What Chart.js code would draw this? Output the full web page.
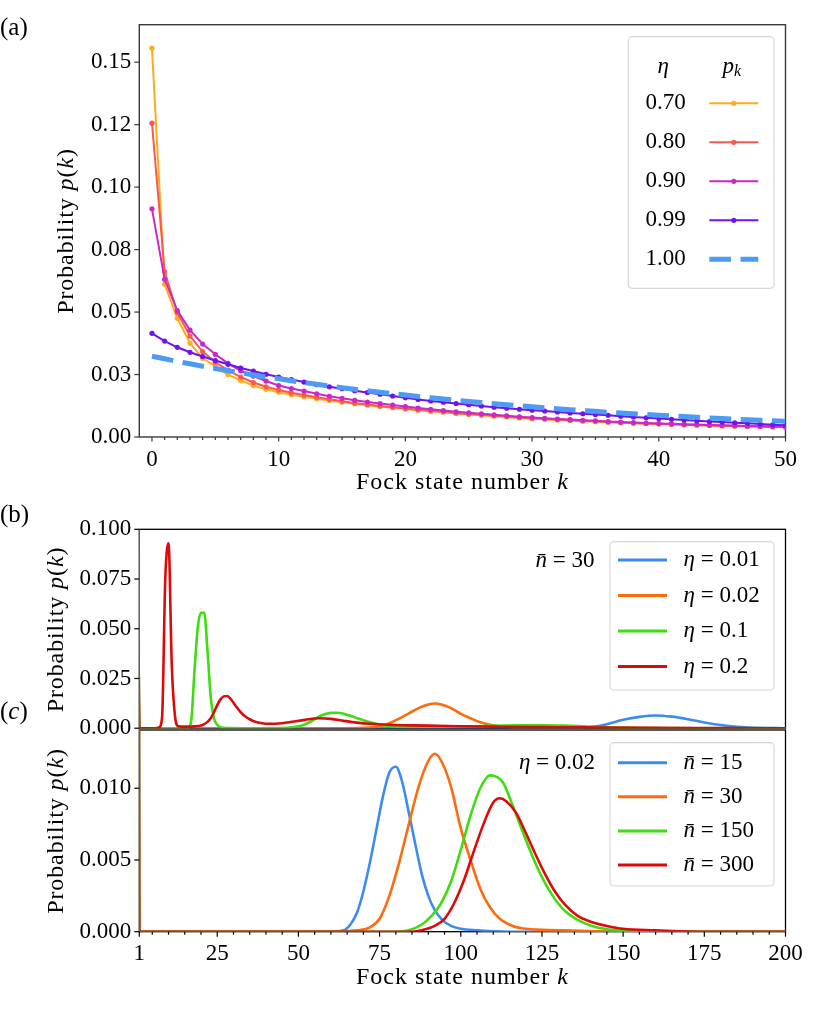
<!DOCTYPE html>
<html lang="en">
<head>
<meta charset="UTF-8">
<title>Fock state number distributions</title>
<style>
    body { margin: 0; background: #fff; }
    .wrap { position: relative; width: 830px; height: 1022px; overflow: hidden; }
    .wrap canvas { position: absolute; left: 0; }
    #chartA { top: 0; }
    #chartB { top: 490px; }
    #chartC { top: 712px; }
</style>
</head>
<body>
<div class="wrap">
    <canvas id="chartA" width="830" height="500" style="width:830px;height:500px"></canvas>
    <canvas id="chartB" width="830" height="255" style="width:830px;height:255px"></canvas>
    <canvas id="chartC" width="830" height="310" style="width:830px;height:310px"></canvas>
</div>
<script src="https://cdn.jsdelivr.net/npm/chart.js"></script>
<script>
// ---------- panel (a): p(k) for several efficiencies ----------
const kA = [0, 1, 2, 3, 4, 5, 6, 7, 8, 9, 10, 11, 12, 13, 14, 15, 16, 17, 18, 19, 20,
    21, 22, 23, 24, 25, 26, 27, 28, 29, 30, 31, 32, 33, 34, 35, 36, 37, 38, 39, 40,
    41, 42, 43, 44, 45, 46, 47, 48, 49, 50];
const etaA = ['0.70', '0.80', '0.90', '0.99', '1.00'];
const pA070 = [0.1556, 0.0611, 0.0475, 0.0375, 0.0315, 0.0284, 0.0250, 0.0226, 0.0206, 0.0191, 0.0179,
    0.0169, 0.0161, 0.0153, 0.0146, 0.0139, 0.0133, 0.0127, 0.0122, 0.0117, 0.0112,
    0.0107, 0.0103, 0.0099, 0.0094, 0.0090, 0.0087, 0.0083, 0.0080, 0.0076, 0.0073,
    0.0071, 0.0068, 0.0066, 0.0063, 0.0061, 0.0059, 0.0057, 0.0055, 0.0053, 0.0052,
    0.0050, 0.0048, 0.0047, 0.0046, 0.0044, 0.0043, 0.0042, 0.0041, 0.0040, 0.0039];
const pA080 = [0.1256, 0.0662, 0.0498, 0.0404, 0.0342, 0.0299, 0.0268, 0.0240, 0.0218, 0.0201, 0.0188,
    0.0177, 0.0168, 0.0159, 0.0151, 0.0143, 0.0136, 0.0130, 0.0124, 0.0119, 0.0114,
    0.0109, 0.0105, 0.0101, 0.0096, 0.0092, 0.0089, 0.0085, 0.0082, 0.0078, 0.0075,
    0.0072, 0.0070, 0.0067, 0.0065, 0.0063, 0.0060, 0.0058, 0.0056, 0.0054, 0.0053,
    0.0051, 0.0049, 0.0048, 0.0046, 0.0045, 0.0044, 0.0043, 0.0042, 0.0041, 0.0040];
const pA090 = [0.0913, 0.0631, 0.0506, 0.0428, 0.0372, 0.0331, 0.0295, 0.0265, 0.0244, 0.0224, 0.0206,
    0.0194, 0.0184, 0.0173, 0.0163, 0.0155, 0.0147, 0.0140, 0.0134, 0.0128, 0.0122,
    0.0116, 0.0111, 0.0106, 0.0101, 0.0097, 0.0093, 0.0089, 0.0085, 0.0081, 0.0078,
    0.0075, 0.0072, 0.0070, 0.0067, 0.0065, 0.0062, 0.0060, 0.0058, 0.0056, 0.0054,
    0.0053, 0.0051, 0.0050, 0.0048, 0.0047, 0.0046, 0.0044, 0.0043, 0.0042, 0.0041];
const pA099 = [0.0415, 0.0384, 0.0359, 0.0339, 0.0322, 0.0306, 0.0291, 0.0276, 0.0264, 0.0251, 0.0240,
    0.0230, 0.0220, 0.0210, 0.0201, 0.0193, 0.0185, 0.0178, 0.0171, 0.0164, 0.0157,
    0.0150, 0.0144, 0.0139, 0.0134, 0.0129, 0.0124, 0.0119, 0.0115, 0.0111, 0.0107,
    0.0104, 0.0100, 0.0096, 0.0093, 0.0090, 0.0087, 0.0083, 0.0080, 0.0077, 0.0074,
    0.0071, 0.0068, 0.0065, 0.0062, 0.0060, 0.0057, 0.0055, 0.0052, 0.0049, 0.0047];
const pA100 = [0.0323, 0.0313, 0.0302, 0.0293, 0.0283, 0.0274, 0.0265, 0.0257, 0.0248, 0.0240, 0.0233,
    0.0225, 0.0218, 0.0211, 0.0204, 0.0197, 0.0191, 0.0185, 0.0179, 0.0173, 0.0168,
    0.0162, 0.0157, 0.0152, 0.0147, 0.0142, 0.0138, 0.0133, 0.0129, 0.0125, 0.0121,
    0.0117, 0.0113, 0.0109, 0.0106, 0.0103, 0.0099, 0.0096, 0.0093, 0.0090, 0.0087,
    0.0084, 0.0082, 0.0079, 0.0076, 0.0074, 0.0071, 0.0069, 0.0067, 0.0065, 0.0063];
const yTicksA = [0, 0.025, 0.05, 0.075, 0.1, 0.125, 0.15];
const yTickLabelsA = ['0.00', '0.03', '0.05', '0.08', '0.10', '0.12', '0.15'];
const xTicksA = [0, 10, 20, 30, 40, 50];

// ---------- panel (b): nbar = 30, several eta ----------
const etaB = ['0.01', '0.02', '0.1', '0.2'];
const kB001 = [0, 1, 120, 130, 136, 141, 145, 150, 155, 160, 165, 170, 175, 180, 185, 190, 195, 200];
const pB001 = [0.5, 0, 0, 0, 0.0002, 0.0008, 0.0020, 0.0042, 0.0057, 0.0064, 0.0058, 0.0045, 0.0029, 0.0016, 0.0007, 0.0002, 0.0001, 0];
// eta = 0.02, nbar = 30 (same curve in panels b and c)
const kN30 = [0, 1, 60, 68, 72, 75, 78, 81, 84, 87, 90, 92, 94, 97, 100, 103, 106, 109, 112, 116, 120, 130, 150, 200];
const pN30 = [0.5, 0, 0, 0.0001, 0.0003, 0.0009, 0.0025, 0.0048, 0.0075, 0.0101, 0.0119, 0.0124, 0.0119, 0.0101, 0.0072, 0.0050, 0.0030, 0.0017, 0.0009, 0.0004, 0.0002, 0.0001, 0, 0];
const kB01 = [0, 1, 14, 16, 17, 18, 19, 20, 21, 22, 23, 24, 25, 26, 28, 40, 45, 48, 51, 54, 57, 60, 62, 64, 67,
    70, 73, 76, 80, 85, 90, 100, 110, 118, 125, 132, 138, 145, 155, 165, 200];
const pB01 = [0.5, 0, 0, 0.0001, 0.0040, 0.0290, 0.0505, 0.0580, 0.0580, 0.0390, 0.0155, 0.0050, 0.0017, 0.0005, 0.0001,
    0, 0.0001, 0.0005, 0.0013, 0.0035, 0.0064, 0.0077, 0.0078, 0.0072, 0.0057, 0.0040, 0.0026, 0.0015, 0.0008, 0.0006,
    0.0006, 0.0008, 0.0012, 0.0014, 0.0015, 0.0013, 0.0009, 0.0004, 0.0001, 0, 0];
const kB02 = [0, 1, 6, 7, 8, 9, 10, 11, 12, 13, 14, 16, 18, 20, 21, 22, 23, 24, 25, 26, 27, 28, 29, 30, 31, 32, 33,
    34, 35, 36, 37, 38, 40, 45, 48, 52, 56, 60, 64, 68, 72, 78, 85, 93, 100, 110, 120, 130, 145, 160, 180, 200];
const pB02 = [0.5, 0, 0, 0.0003, 0.0050, 0.0750, 0.0930, 0.0320, 0.0060, 0.0010, 0.0008, 0.0008, 0.0009, 0.0013,
    0.0020, 0.0032, 0.0050, 0.0080, 0.0116, 0.0145, 0.0160, 0.0162, 0.0150, 0.0128, 0.0105, 0.0085, 0.0068, 0.0055,
    0.0045, 0.0037, 0.0031, 0.0027, 0.0022, 0.0025, 0.0032, 0.0042, 0.0050, 0.0047, 0.0037, 0.0028, 0.0022, 0.0017,
    0.0014, 0.0012, 0.0010, 0.0008, 0.0006, 0.0005, 0.0003, 0.0002, 0.0001, 0];
const yTicksB = [0, 0.025, 0.05, 0.075, 0.1];
const yTickLabelsB = ['0.000', '0.025', '0.050', '0.075', '0.100'];

// ---------- panel (c): eta = 0.02, several nbar ----------
const nbarC = ['15', '30', '150', '300'];
const kC15 = [0, 1, 60, 64, 66, 68, 70, 72, 74, 76, 78, 80, 82, 84, 86, 88, 90, 92, 94, 97, 100, 105, 115, 200];
const pC15 = [0.5, 0, 0, 0.0001, 0.0005, 0.0013, 0.0028, 0.0048, 0.0071, 0.0094, 0.0111, 0.0115, 0.0104, 0.0083,
    0.0061, 0.0040, 0.0025, 0.0015, 0.0009, 0.0004, 0.0002, 0.0001, 0, 0];
const kC150 = [0, 1, 80, 84, 88, 91, 94, 97, 100, 103, 106, 109, 111, 113, 116, 119, 122, 125, 128, 131, 134, 138, 142, 148, 160, 200];
const pC150 = [0.5, 0, 0, 0.0001, 0.0005, 0.0011, 0.0020, 0.0035, 0.0057, 0.0081, 0.0100, 0.0109, 0.0108, 0.0104,
    0.0088, 0.0070, 0.0053, 0.0038, 0.0026, 0.0017, 0.0011, 0.0006, 0.0003, 0.0001, 0, 0];
const kC300 = [0, 1, 85, 88, 92, 95, 98, 101, 104, 107, 110, 112, 114, 117, 120, 123, 126, 129, 132, 136, 140, 145, 150, 160, 175, 200];
const pC300 = [0.5, 0, 0, 0.0001, 0.0004, 0.0009, 0.0020, 0.0036, 0.0056, 0.0075, 0.0090, 0.0093, 0.0091, 0.0083,
    0.0069, 0.0054, 0.0040, 0.0028, 0.0019, 0.0011, 0.0007, 0.0004, 0.0002, 0.0001, 0, 0];
const yTicksC = [0, 0.005, 0.01];
const yTickLabelsC = ['0.000', '0.005', '0.010'];
const xMajorC = [1, 25, 50, 75, 100, 125, 150, 175, 200];
const xMinorC = [5, 10, 15, 20, 30, 35, 40, 45, 55, 60, 65, 70, 80, 85, 90, 95, 105, 110, 115, 120,
    130, 135, 140, 145, 155, 160, 165, 170, 180, 185, 190, 195];

// ---------- helpers ----------
const FONT = 'Liberation Serif';
const FS = 23;
Chart.defaults.font.family = FONT;
Chart.defaults.font.size = FS;
Chart.defaults.color = '#000';

function pts(ks, ps) {
    return ks.map((k, i) => ({ x: k, y: ps[i] }));
}

function fontOf(p, size) {
    return (p.it ? 'italic ' : '') + (p.sz || size) + 'px "' + FONT + '"';
}

// draw a run of text pieces with mixed upright / italic styles
function drawRich(ctx, parts, x, y, align, size, spacing) {
    size = size || FS;
    ctx.letterSpacing = (spacing || 0) + 'px';
    let w = 0;
    parts.forEach(p => { ctx.font = fontOf(p, size); w += ctx.measureText(p.t).width; });
    let cx = align === 'center' ? x - w / 2 : (align === 'right' ? x - w : x);
    ctx.textAlign = 'left';
    ctx.textBaseline = 'middle';
    ctx.fillStyle = '#000';
    parts.forEach(p => {
        ctx.font = fontOf(p, size);
        ctx.fillText(p.t, cx, y + (p.dy || 0));
        cx += ctx.measureText(p.t).width;
    });
    ctx.letterSpacing = '0px';
}

const probLabel = [{ t: 'Probability ' }, { t: 'p', it: true }, { t: '(' }, { t: 'k', it: true }, { t: ')' }];
const fockLabel = [{ t: 'Fock state number ' }, { t: 'k', it: true }];

// frame, tick marks, legend box and free texts
const decor = {
    id: 'decor',
    beforeDatasetsDraw(chart, args, o) {
        const ctx = chart.ctx, a = chart.chartArea;
        ctx.save();
        ctx.strokeStyle = o.frameColor;
        ctx.lineWidth = o.frameWidth;
        ctx.strokeRect(a.left, a.top, a.right - a.left, a.bottom - a.top);
        ctx.restore();
    },
    afterDatasetsDraw(chart, args, o) {
        const ctx = chart.ctx, a = chart.chartArea, off = o.offsetY;
        ctx.save();
        ctx.strokeStyle = o.frameColor;
        ctx.lineWidth = o.tickWidth;
        (o.xTicks || []).forEach(t => {
            const px = chart.scales.x.getPixelForValue(t.v);
            ctx.beginPath(); ctx.moveTo(px, a.bottom); ctx.lineTo(px, a.bottom + t.len); ctx.stroke();
        });
        (o.yTicks || []).forEach(t => {
            const py = chart.scales.y.getPixelForValue(t.v);
            ctx.beginPath(); ctx.moveTo(a.left, py); ctx.lineTo(a.left - t.len, py); ctx.stroke();
        });
        ctx.restore();

        const L = o.legend;
        if (L) {
            const [x1, y1, x2, y2] = L.box;
            ctx.save();
            ctx.beginPath();
            ctx.roundRect(x1, y1 - off, x2 - x1, y2 - y1, 4);
            ctx.fillStyle = 'rgba(255,255,255,0.85)';
            ctx.fill();
            ctx.strokeStyle = 'rgba(205,212,212,0.9)';
            ctx.lineWidth = 1.2;
            ctx.stroke();
            ctx.restore();
            L.rows.forEach(r => {
                const ds = chart.data.datasets[r.ds];
                const y = r.y - off;
                ctx.save();
                ctx.strokeStyle = ds.borderColor;
                ctx.lineWidth = ds.borderWidth + (L.extraWidth || 0);
                ctx.setLineDash(ds.borderDash || []);
                ctx.beginPath(); ctx.moveTo(L.lx1, y); ctx.lineTo(L.lx2, y); ctx.stroke();
                if (ds.pointRadius > 0) {
                    ctx.setLineDash([]);
                    ctx.fillStyle = ds.borderColor;
                    ctx.beginPath(); ctx.arc((L.lx1 + L.lx2) / 2, y, ds.pointRadius, 0, Math.PI * 2); ctx.fill();
                }
                ctx.restore();
                drawRich(ctx, r.parts, L.tx, y, L.talign, 23);
            });
        }
        (o.texts || []).forEach(t => {
            ctx.save();
            if (t.rotate) {
                ctx.translate(t.x, t.y - off);
                ctx.rotate(-Math.PI / 2);
                drawRich(ctx, t.parts, 0, 0, t.align, t.size, t.ls);
            } else {
                drawRich(ctx, t.parts, t.x, t.y - off, t.align, t.size, t.ls);
            }
            ctx.restore();
        });
    }
};

function tickScale(min, max, ticks, labels, extra) {
    return Object.assign({
        type: 'linear', min: min, max: max,
        afterBuildTicks: s => { s.ticks = ticks.map(v => ({ value: v })); },
        ticks: {
            autoSkip: false, maxRotation: 0, minRotation: 0,
            callback: (v, i) => labels[i]
        },
        grid: { display: true, drawOnChartArea: false, drawTicks: true, tickLength: 5, tickColor: 'rgba(0,0,0,0)' },
        border: { display: false }
    }, extra);
}

// ---------- chart (a) ----------
const colorsA = ['#ffab1a', '#f65a4c', '#cc28c4', '#7014ef', '#4d9bf2'];
const seriesA = [pA070, pA080, pA090, pA099, pA100];
const dsA = seriesA.map((arr, i) => {
    const dashed = i === 4;
    return {
        label: etaA[i],
        data: pts(kA, arr),
        borderColor: colorsA[i],
        backgroundColor: colorsA[i],
        pointBackgroundColor: colorsA[i],
        borderWidth: dashed ? 5 : 2,
        borderDash: dashed ? [21.7, 9.5] : [],
        borderCapStyle: 'butt',
        pointRadius: dashed ? 0 : 2.6,
        pointBorderWidth: 0,
        tension: 0,
        fill: false,
        order: seriesA.length - i
    };
});

new Chart(document.getElementById('chartA'), {
    type: 'line',
    data: { datasets: dsA },
    options: {
        responsive: false,
        animation: false,
        layout: { padding: { left: 0, right: 44.5, top: 24.7, bottom: 0 } },
        plugins: {
            legend: { display: false },
            tooltip: { enabled: false },
            decor: {
                offsetY: 0,
                frameColor: '#3a3a3a', frameWidth: 1.4, tickWidth: 1.2,
                xTicks: kA.map(v => ({ v: v, len: v % 10 === 0 ? 4.5 : 3 })),
                yTicks: yTicksA.map(v => ({ v: v, len: 5 })),
                legend: {
                    box: [628.3, 36.7, 774, 288.3],
                    lx1: 709.3, lx2: 758.3, tx: 665.5, talign: 'center',
                    rows: etaA.map((e, i) => ({ ds: i, y: 103.3 + i * 39, parts: [{ t: e }] }))
                },
                texts: [
                    { parts: [{ t: '(a)' }], x: 0, y: 28, align: 'left', size: 25 },
                    { parts: [{ t: 'η', it: true }], x: 663.3, y: 66.7, align: 'center' },
                    { parts: [{ t: 'p', it: true }, { t: 'k', it: true, sz: 16, dy: 5 }], x: 731.7, y: 66.7, align: 'center' },
                    { parts: probLabel, x: 67, y: 231, align: 'center', rotate: true, size: 24, ls: 0.9 },
                    { parts: fockLabel, x: 462.4, y: 483, align: 'center', size: 24, ls: 1 }
                ]
            }
        },
        scales: {
            x: tickScale(-1, 50, xTicksA, xTicksA.map(String), {
                afterFit: s => { s.height = 63; }
            }),
            y: tickScale(0, 0.165, yTicksA, yTickLabelsA, {
                afterFit: s => { s.width = 139.3; }
            })
        }
    },
    plugins: [decor]
});
// x tick label gap for panel (a)
Chart.getChart('chartA').options.scales.x.ticks.padding = 4;
Chart.getChart('chartA').update('none');

// ---------- chart (b) ----------
const colorsBC = ['#3a8cf0', '#ff6a0d', '#3fdc12', '#dc0b0b'];
function curve(label, ks, ps, i, n) {
    return {
        label: label,
        data: pts(ks, ps),
        borderColor: colorsBC[i],
        backgroundColor: colorsBC[i],
        borderWidth: 2.6,
        pointRadius: 0,
        cubicInterpolationMode: 'monotone',
        fill: false,
        order: n - i
    };
}
const dsB = [
    curve('η = 0.01', kB001, pB001, 0, 4),
    curve('η = 0.02', kN30, pN30, 1, 4),
    curve('η = 0.1', kB01, pB01, 2, 4),
    curve('η = 0.2', kB02, pB02, 3, 4)
];

new Chart(document.getElementById('chartB'), {
    type: 'line',
    data: { datasets: dsB },
    options: {
        responsive: false,
        animation: false,
        layout: { padding: { left: 0, right: 44.5, top: 39.3, bottom: 15 } },
        plugins: {
            legend: { display: false },
            tooltip: { enabled: false },
            decor: {
                offsetY: 490,
                frameColor: '#000', frameWidth: 1.3, tickWidth: 1.2,
                yTicks: yTicksB.map(v => ({ v: v, len: 5 })),
                legend: {
                    box: [610, 541.7, 774, 690],
                    lx1: 618, lx2: 667, tx: 683.6, talign: 'left', extraWidth: 0.4,
                    rows: etaB.map((e, i) => ({ ds: i, y: 560 + i * 35.5, parts: [{ t: 'η', it: true }, { t: ' = ' + e }] }))
                },
                texts: [
                    { parts: [{ t: 'n\u0304', it: true }, { t: ' = 30' }], x: 565, y: 561, align: 'center' },
                    { parts: [{ t: '(b)' }], x: 0, y: 515, align: 'left', size: 25 },
                    { parts: [{ t: '(' }, { t: 'c', it: true }, { t: ')' }], x: 0, y: 712, align: 'left', size: 25 },
                    { parts: probLabel, x: 57, y: 629.5, align: 'center', rotate: true, size: 24, ls: 0.9 }
                ]
            }
        },
        scales: {
            x: { type: 'linear', min: 1, max: 200, display: false },
            y: tickScale(0, 0.1, yTicksB, yTickLabelsB, {
                afterFit: s => { s.width = 139.3; }
            })
        }
    },
    plugins: [decor]
});

// ---------- chart (c) ----------
const dsC = [
    curve('n = 15', kC15, pC15, 0, 4),
    curve('n = 30', kN30, pN30, 1, 4),
    curve('n = 150', kC150, pC150, 2, 4),
    curve('n = 300', kC300, pC300, 3, 4)
];
const xTicksC = xMajorC.concat(xMinorC).sort((a, b) => a - b);

new Chart(document.getElementById('chartC'), {
    type: 'line',
    data: { datasets: dsC },
    options: {
        responsive: false,
        animation: false,
        layout: { padding: { left: 0, right: 44.5, top: 18, bottom: 0 } },
        plugins: {
            legend: { display: false },
            tooltip: { enabled: false },
            decor: {
                offsetY: 712,
                frameColor: '#000', frameWidth: 1.3, tickWidth: 1.2,
                xTicks: xTicksC.map(v => ({ v: v, len: xMajorC.includes(v) ? 5 : 3 })),
                yTicks: yTicksC.map(v => ({ v: v, len: 5 })),
                legend: {
                    box: [610, 742.7, 774, 886],
                    lx1: 618, lx2: 667, tx: 683.6, talign: 'left', extraWidth: 0.4,
                    rows: nbarC.map((n, i) => ({ ds: i, y: 762.7 + i * 34.1, parts: [{ t: 'n\u0304', it: true }, { t: ' = ' + n }] }))
                },
                texts: [
                    { parts: [{ t: 'η', it: true }, { t: ' = 0.02' }], x: 557, y: 763, align: 'center' },
                    { parts: probLabel, x: 57, y: 831, align: 'center', rotate: true, size: 24, ls: 0.9 },
                    { parts: fockLabel, x: 462.4, y: 978, align: 'center', size: 24, ls: 1 }
                ]
            }
        },
        scales: {
            x: tickScale(1, 200, xTicksC, xTicksC.map(v => xMajorC.includes(v) ? String(v) : ''), {
                afterFit: s => { s.height = 90.3; }
            }),
            y: tickScale(0, 0.01406, yTicksC, yTickLabelsC, {
                afterFit: s => { s.width = 139.3; }
            })
        }
    },
    plugins: [decor]
});
</script>
</body>
</html>
